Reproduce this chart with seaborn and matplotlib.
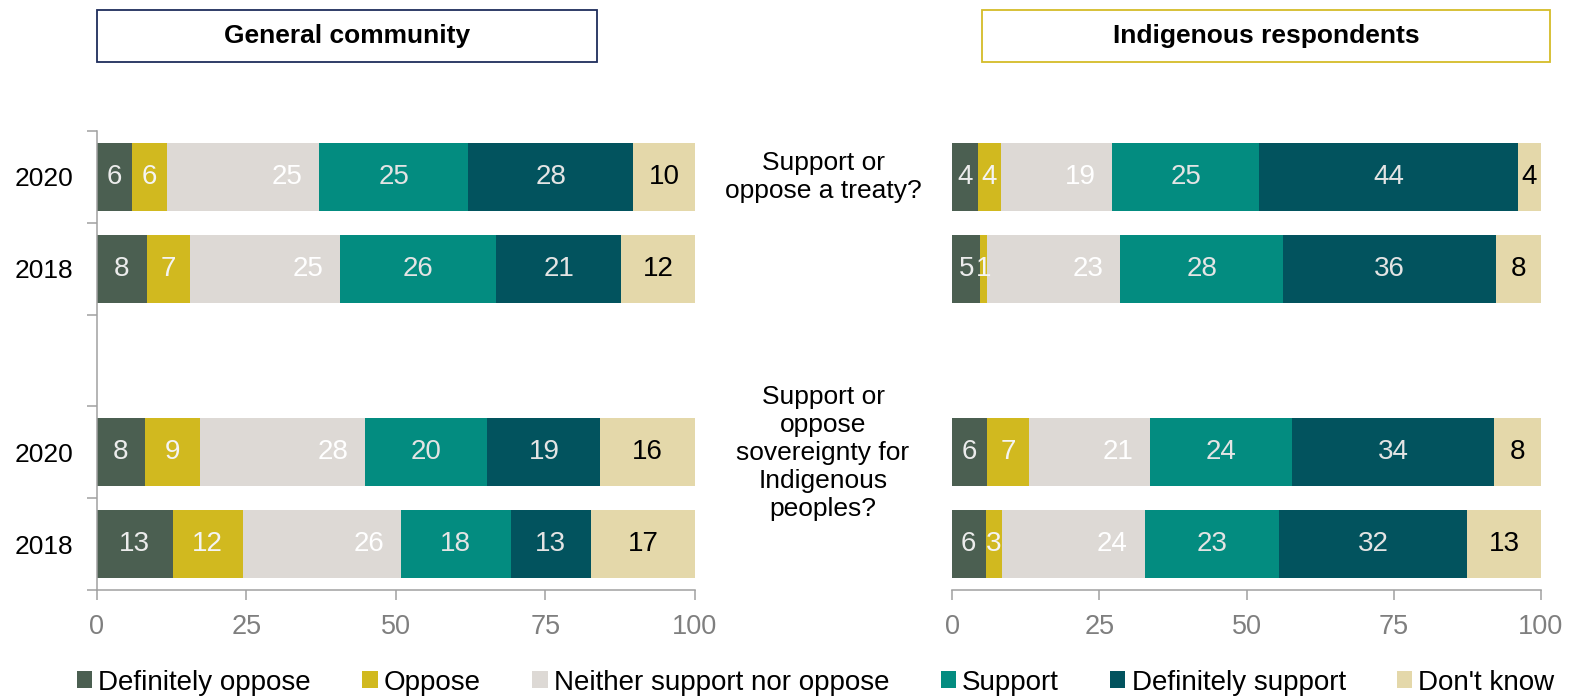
import numpy as np
import pandas as pd
import matplotlib
matplotlib.use("Agg")
import matplotlib.pyplot as plt
from matplotlib.patches import Rectangle, Patch
import seaborn as sns

# Kategorie odpowiedzi i kolory
categories = ["Definitely oppose", "Oppose", "Neither support nor oppose",
              "Support", "Definitely support", "Don't know"]
palette = ["#4b5f51", "#d1b91f", "#ddd9d5", "#038c80", "#02535e", "#e4d8aa"]
label_colors = ["#ececec", "#f4f4f4", "#ffffff", "#e4e4e4", "#e4e4e4", "#000000"]

# Wiersze wykresu (pusty wiersz = przerwa między pytaniami)
row_keys = ["treaty_2020", "treaty_2018", "gap", "sov_2020", "sov_2018"]
year_labels = ["2020", "2018", "", "2020", "2018"]
questions = ["Support or\noppose a treaty?",
             "Support or\noppose\nsovereignty for\nIndigenous\npeoples?"]

# General community (%)
general_treaty_2020 = [5.9, 5.9, 25.4, 24.9, 27.6, 10.3]
general_treaty_2018 = [8.4, 7.2, 25.1, 26.0, 21.0, 12.3]
general_sov_2020 = [8.1, 9.2, 27.6, 20.4, 18.9, 15.8]
general_sov_2018 = [12.7, 11.7, 26.4, 18.4, 13.4, 17.4]

# Indigenous respondents
indig_treaty_2020 = [4.4, 3.9, 18.9, 25.0, 43.9, 3.9]
indig_treaty_2018 = [4.8, 1.2, 22.6, 27.6, 36.2, 7.6]
indig_sov_2020 = [5.9, 7.2, 20.6, 24.1, 34.2, 8.0]
indig_sov_2018 = [5.7, 2.8, 24.2, 22.8, 31.9, 12.6]

panels = {
    "General community": {"treaty_2020": general_treaty_2020, "treaty_2018": general_treaty_2018,
                          "sov_2020": general_sov_2020, "sov_2018": general_sov_2018},
    "Indigenous respondents": {"treaty_2020": indig_treaty_2020, "treaty_2018": indig_treaty_2018,
                               "sov_2020": indig_sov_2020, "sov_2018": indig_sov_2018},
}

sns.set_theme(style="white")
plt.rcParams["font.family"] = ["Liberation Sans", "DejaVu Sans"]
plt.rcParams["text.color"] = "black"

W, H = 1578, 698
fig = plt.figure(figsize=(W / 100, H / 100), dpi=100)

ax_left = fig.add_axes([96.6 / W, 108 / H, 598.4 / W, 459 / H])
ax_right = fig.add_axes([952 / W, 108 / H, 589 / W, 459 / H])

spine_col = "#a0a0a0"


def build_frame(panel):
    recs = []
    for key in row_keys:
        if key not in panel:
            continue
        vals = panel[key]
        lefts = np.concatenate([[0], np.cumsum(vals)[:-1]])
        for cat, v, l in zip(categories, vals, lefts):
            recs.append({"row": key, "category": cat, "value": v, "left": l})
    return pd.DataFrame(recs)


for ax, (title, panel) in zip([ax_left, ax_right], panels.items()):
    df = build_frame(panel)
    for cat, col, lcol in zip(categories, palette, label_colors):
        sub = df[df["category"] == cat].copy()
        sub["order"] = sub["row"].map(row_keys.index)
        sub = sub.sort_values("order")
        sns.barplot(data=sub, x="value", y="row", order=row_keys, orient="h",
                    color=col, saturation=1, width=0.74, errorbar=None,
                    left=sub["left"].values, linewidth=0, ax=ax)
        for _, r in sub.iterrows():
            y = row_keys.index(r["row"])
            txt = str(int(round(r["value"])))
            if cat == "Neither support nor oppose":
                ax.annotate(txt, xy=(r["left"] + r["value"], y),
                            xytext=(-12, 0), textcoords="offset points",
                            ha="right", va="center", fontsize=20, color=lcol)
            else:
                ax.text(r["left"] + r["value"] / 2, y, txt,
                        ha="center", va="center", fontsize=20, color=lcol)

    ax.set_xlim(0, 100)
    ax.set_ylim(4.5, -0.5)
    ax.set_xlabel("")
    ax.set_ylabel("")
    ax.set_xticks([0, 25, 50, 75, 100])
    ax.tick_params(axis="x", colors=spine_col, labelcolor="#7f7f7f", labelsize=19.5,
                   length=7, width=1.1, pad=10, bottom=True)
    for s in ["top", "right"]:
        ax.spines[s].set_visible(False)
    ax.spines["bottom"].set_color(spine_col)
    ax.spines["bottom"].set_linewidth(1.1)

    # Ramka z tytułem panelu
    if ax is ax_left:
        x0, x1, ec = 97, 597, "#1f2d5c"
    else:
        x0, x1, ec = 982, 1550, "#d4bc28"
    fig.add_artist(Rectangle((x0 / W, 1 - 62 / H), (x1 - x0) / W, 52 / H,
                             transform=fig.transFigure, fill=False, edgecolor=ec, lw=1.3))
    fig.text((x0 + x1) / 2 / W, 1 - 36 / H, title, ha="center", va="center",
             fontsize=19, fontweight="bold", color="black")

# Oś Y po lewej: kreski między wierszami, etykiety lat w środku
ax_left.set_yticks(np.arange(-0.5, 5, 1.0))
ax_left.set_yticklabels([])
ax_left.set_yticks([0, 1, 3, 4], minor=True)
ax_left.set_yticklabels([year_labels[i] for i in [0, 1, 3, 4]], minor=True)
ax_left.tick_params(axis="y", which="major", left=True, length=7, width=1.1, colors=spine_col)
ax_left.tick_params(axis="y", which="minor", left=True, length=0, pad=17, labelsize=19,
                    labelcolor="black")
ax_left.spines["left"].set_color(spine_col)
ax_left.spines["left"].set_linewidth(1.1)

ax_right.spines["left"].set_visible(False)
ax_right.set_yticks([])

# Pytania pośrodku
fig.text(823 / W, 1 - 177 / H, questions[0], ha="center", va="center",
         fontsize=19, linespacing=1.2, color="black")
fig.text(823 / W, 1 - 453 / H, questions[1], ha="center", va="center",
         fontsize=19, linespacing=1.2, color="black")

handles = [Patch(facecolor=c, edgecolor="none", label=l) for c, l in zip(palette, categories)]
fig.legend(handles=handles, loc="center", bbox_to_anchor=(0.517, 0.022), ncol=6,
           frameon=False, fontsize=20, handlelength=0.55, handleheight=0.55,
           handletextpad=0.22, columnspacing=1.85, borderpad=0, borderaxespad=0,
           labelcolor="black")

fig.savefig("out.png", dpi=100)
